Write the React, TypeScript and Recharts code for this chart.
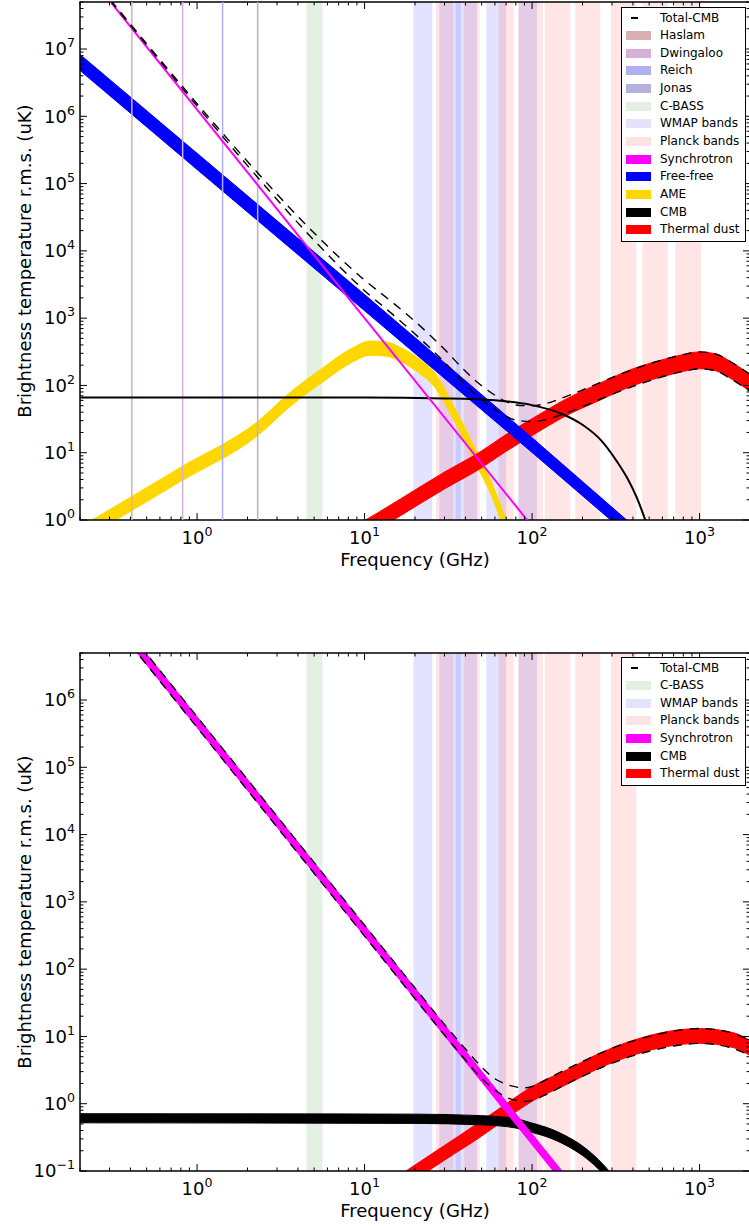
import { Area, ComposedChart, Line, ReferenceArea, ReferenceLine, XAxis, YAxis } from "recharts"

const FONT = "'DejaVu Sans', 'Bitstream Vera Sans', sans-serif"

// ---- shared bands (GHz) ----
const surveyNames = ["Haslam", "Dwingaloo", "Reich", "Jonas"]
const surveyFreqs = [0.408, 0.82, 1.42, 2.3]
const cbassBand = [4.5, 5.6]
const wmapBands = [[19.6, 25.4], [27.9, 37.5], [35, 46.9], [53.3, 70], [83, 107]]
const planckBands = [[26.7, 33.8], [39.3, 48.5], [63, 77.6], [83, 116], [119, 169], [181, 255], [296, 419], [455, 648], [716, 1019]]
const planckBandsLower = planckBands.slice(0, 7)

// ---- top panel ----
const syncFreqTop = [0.2, 1, 10, 100]
const syncTempTop = [1.84e8, 1.26e6, 1.0e3, 0.81]

const ffFreq = [0.2, 1, 10, 100, 400]
const ffLo = [4.8e6, 1.62e5, 1290, 10.1, 0.52]
const ffHi = [8.3e6, 2.82e5, 2240, 16.7, 0.83]

const ameFreq = [0.2, 0.8, 2.3, 3.6, 5.7, 8.6, 10.8, 13.6, 16.4, 21.5, 25.9, 32.6, 40.9, 47, 56.4, 64.7, 70.8, 75]
const ameLo = [0.48, 3.76, 18, 48.8, 115, 227, 281, 271, 226, 148, 98.6, 37.6, 12.4, 6.2, 2.5, 1.03, 0.55, 0.31]
const ameHi = [0.78, 6.1, 29.2, 79.2, 187, 369, 457, 441, 366, 240, 160, 61, 20.2, 10.1, 4.0, 1.68, 0.9, 0.5]

const cmbFreqTop = [0.2, 10, 30, 60, 100, 150, 200, 260, 320, 370, 420, 474, 520]
const cmbTempTop = [66, 66, 64, 60, 51, 38, 26, 15, 7.5, 4.2, 2.2, 1.0, 0.5]

const dustFreqTop = [10, 12.3, 16.4, 30, 49, 70, 102, 158, 256, 398, 640, 800, 1000, 1260, 1600, 2000]
const dustLoTop = [0.55, 0.75, 1.16, 2.9, 5.8, 10.5, 18.5, 35, 61, 99, 141, 162, 177, 164, 119, 82]
const dustHiTop = [0.98, 1.33, 2.06, 5.15, 10.3, 18.7, 33, 62, 109, 176, 251, 288, 315, 291, 211, 146]

const totFreqTop = [0.2, 0.5, 1, 2, 5, 10, 15, 20, 30, 40, 50, 60, 70, 80, 100, 120, 150, 200, 300, 500, 700, 800, 1000, 1260, 1500, 2000]
const totLoTop = [1.89e8, 1.14e7, 1.42e6, 1.85e5, 1.43e4, 2560, 1090, 582, 221, 102, 61.6, 43.8, 34.7, 30.6, 29.1, 30.8, 36.9, 48.3, 74, 117, 150, 162, 177, 164, 130, 82]
const totHiTop = [1.92e8, 1.2e7, 1.54e6, 2.13e5, 1.84e4, 3680, 1640, 894, 344, 162, 98.7, 71.5, 57.4, 51.3, 49.9, 53.5, 64.6, 85.5, 131, 209, 266, 288, 315, 291, 232, 146]

// ---- bottom panel ----
const syncFreqBot = [0.2, 1, 10, 100, 200]
const syncLoBot = [5.74e7, 3.91e5, 310, 0.246, 0.029]
const syncHiBot = [8.3e7, 5.65e5, 449, 0.355, 0.042]

const cmbFreqBot = [0.2, 20, 50, 80, 100, 130, 160, 200, 250, 300, 350]
const cmbLoBot = [0.52, 0.51, 0.485, 0.435, 0.375, 0.305, 0.24, 0.17, 0.106, 0.064, 0.037]
const cmbHiBot = [0.71, 0.7, 0.665, 0.6, 0.515, 0.42, 0.33, 0.235, 0.146, 0.088, 0.05]

const dustFreqBot = [15, 20.6, 30, 50, 64.7, 102, 162, 256, 404, 640, 1000, 1600, 2000]
const dustLoBot = [0.046, 0.078, 0.145, 0.33, 0.52, 1.12, 1.95, 3.44, 5.3, 7.1, 7.9, 6.8, 5.2]
const dustHiBot = [0.076, 0.129, 0.24, 0.56, 0.87, 1.85, 3.2, 5.7, 8.8, 11.8, 13.1, 11.3, 8.7]

const totFreqBot = [0.2, 1, 10, 20, 30, 40, 50, 60, 70, 80, 90, 100, 120, 150, 200, 300, 500, 700, 1000, 1500, 2000]
const totLoBot = [5.74e7, 3.91e5, 310, 36.3, 10.5, 4.46, 2.37, 1.6, 1.25, 1.12, 1.08, 1.12, 1.35, 1.8, 2.56, 4.0, 6.03, 7.2, 7.88, 6.9, 5.25]
const totHiBot = [8.3e7, 5.65e5, 449, 52.5, 15.1, 6.5, 3.5, 2.35, 1.95, 1.78, 1.72, 1.8, 2.25, 3.0, 4.24, 6.67, 10.0, 12.0, 13.1, 11.6, 8.7]

const X_DOMAIN = [0.2, 2000]
const TOP_Y = [1, 5e7]
const BOT_Y = [0.1, 5e6]

// layout of each chart (chart-local px)
const W = 770
const H = 578
const PLOT_TOP = 2
const PLOT_LEFT = 80
const PLOT_RIGHT = 750
const BOTTOM_OFFSET = 651
const DASH = "9 7"

const rows = (f: number[], t: number[]) => f.map((v, i) => ({ f: v, t: t[i] }))
const bandRows = (f: number[], lo: number[], hi: number[]) => f.map((v, i) => ({ f: v, r: [lo[i], hi[i]] }))

function logTicks(lo: number, hi: number) {
    const out: number[] = []
    for (let e = Math.floor(Math.log10(lo)); e <= Math.ceil(Math.log10(hi)); e++) {
        for (let m = 1; m <= 9; m++) {
            const v = +(m * Math.pow(10, e)).toPrecision(6)
            if (v >= lo * 0.9999 && v <= hi * 1.0001) out.push(v)
        }
    }
    return out
}

const expText = (e: number) => (e < 0 ? "\u2212" + -e : String(e))

function XTick(props: any) {
    const { x, y, payload } = props
    const lg = Math.log10(payload.value)
    const major = Math.abs(lg - Math.round(lg)) < 1e-6
    const len = major ? 7 : 3.5
    return (
        <g>
            <line x1={x} x2={x} y1={y} y2={y - len} stroke="#000" strokeWidth={1} />
            <line x1={x} x2={x} y1={PLOT_TOP} y2={PLOT_TOP + len} stroke="#000" strokeWidth={1} />
            {major && (
                <text x={x} y={y + 23.5} textAnchor="middle" fontSize={18} fontFamily={FONT} fill="#000">
                    10<tspan dy={-8} fontSize={12.6}>{expText(Math.round(lg))}</tspan>
                </text>
            )}
        </g>
    )
}

function YTick(props: any) {
    const { x, y, payload } = props
    const lg = Math.log10(payload.value)
    const major = Math.abs(lg - Math.round(lg)) < 1e-6
    const len = major ? 7 : 3.5
    return (
        <g>
            <line x1={x} x2={x + len} y1={y} y2={y} stroke="#000" strokeWidth={1} />
            <line x1={PLOT_RIGHT} x2={PLOT_RIGHT - len} y1={y} y2={y} stroke="#000" strokeWidth={1} />
            {major && (
                <text x={x - 5} y={y + 6.3} textAnchor="end" fontSize={18} fontFamily={FONT} fill="#000">
                    10<tspan dy={-8} fontSize={12.6}>{expText(Math.round(lg))}</tspan>
                </text>
            )}
        </g>
    )
}

const COLORS = {
    Haslam: "#d8b0b0",
    Dwingaloo: "#d7afd7",
    Reich: "#b0b0f0",
    Jonas: "#b2b2da",
    cbass: "#e3f0e3",
    wmap: "#e3e3fb",
    planck: "#fce4e4",
    sync: "#ff00ff",
    ff: "#0000ff",
    ame: "#ffd700",
    cmb: "#000000",
    dust: "#ff0000",
}

type LegendItem = { label: string; color: string; dash?: boolean }

function LegendBox({ top, items }: { top: number; items: LegendItem[] }) {
    const pitch = 17.65
    return (
        <div
            style={{
                position: "absolute",
                left: 621,
                top,
                width: 125,
                height: 10 + (items.length - 1) * pitch + 13,
                border: "1px solid #000",
                boxSizing: "border-box",
                background: "#fff",
                fontFamily: FONT,
                fontSize: 12,
                color: "#000",
            }}
        >
            {items.map((it, i) => {
                const cy = 10 + i * pitch
                return (
                    <div key={it.label}>
                        {it.dash ? (
                            <div style={{ position: "absolute", left: 9, top: cy - 1, width: 7, height: 2, background: "#000" }} />
                        ) : (
                            <div style={{ position: "absolute", left: 4, top: cy - 4.5, width: 25, height: 9, background: it.color }} />
                        )}
                        <div style={{ position: "absolute", left: 38, top: cy - 7.5, lineHeight: "15px", whiteSpace: "nowrap" }}>{it.label}</div>
                    </div>
                )
            })}
        </div>
    )
}

function axes(yDomain: number[]) {
    return [
        <XAxis
            key="x"
            dataKey="f"
            type="number"
            scale="log"
            domain={X_DOMAIN}
            allowDataOverflow
            ticks={logTicks(X_DOMAIN[0], X_DOMAIN[1])}
            interval={0}
            tickSize={0}
            tickMargin={0}
            axisLine={false}
            tickLine={false}
            tick={(p: any) => <XTick {...p} />}
            height={58}
        />,
        <YAxis
            key="y"
            type="number"
            scale="log"
            domain={yDomain}
            allowDataOverflow
            ticks={logTicks(yDomain[0], yDomain[1])}
            interval={0}
            tickSize={0}
            tickMargin={0}
            axisLine={false}
            tickLine={false}
            tick={(p: any) => <YTick {...p} />}
            width={80}
        />,
    ]
}

function bands(planck: number[][]) {
    return [
        <ReferenceArea key="cb" x1={cbassBand[0]} x2={cbassBand[1]} fill="#008000" fillOpacity={0.11} stroke="none" ifOverflow="hidden" />,
        ...wmapBands.map((b, i) => (
            <ReferenceArea key={"w" + i} x1={b[0]} x2={b[1]} fill="#0000ff" fillOpacity={0.11} stroke="none" ifOverflow="hidden" />
        )),
        ...planck.map((b, i) => (
            <ReferenceArea key={"p" + i} x1={b[0]} x2={b[1]} fill="#ff0000" fillOpacity={0.1} stroke="none" ifOverflow="hidden" />
        )),
    ]
}

const topLegend: LegendItem[] = [
    { label: "Total-CMB", color: "#000", dash: true },
    { label: "Haslam", color: COLORS.Haslam },
    { label: "Dwingaloo", color: COLORS.Dwingaloo },
    { label: "Reich", color: COLORS.Reich },
    { label: "Jonas", color: COLORS.Jonas },
    { label: "C-BASS", color: COLORS.cbass },
    { label: "WMAP bands", color: COLORS.wmap },
    { label: "Planck bands", color: COLORS.planck },
    { label: "Synchrotron", color: COLORS.sync },
    { label: "Free-free", color: COLORS.ff },
    { label: "AME", color: COLORS.ame },
    { label: "CMB", color: COLORS.cmb },
    { label: "Thermal dust", color: COLORS.dust },
]

const bottomLegend: LegendItem[] = [
    { label: "Total-CMB", color: "#000", dash: true },
    { label: "C-BASS", color: COLORS.cbass },
    { label: "WMAP bands", color: COLORS.wmap },
    { label: "Planck bands", color: COLORS.planck },
    { label: "Synchrotron", color: COLORS.sync },
    { label: "CMB", color: COLORS.cmb },
    { label: "Thermal dust", color: COLORS.dust },
]

const axisTitle: React.CSSProperties = {
    position: "absolute",
    fontFamily: FONT,
    fontSize: 18,
    lineHeight: "18px",
    whiteSpace: "nowrap",
    color: "#000",
}

function TopChart() {
    return (
        <ComposedChart width={W} height={H} margin={{ top: PLOT_TOP, right: W - PLOT_RIGHT, bottom: 0, left: 0 }}>
            {axes(TOP_Y)}
            {bands(planckBands)}
            {surveyFreqs.map((f, i) => (
                <ReferenceLine key={surveyNames[i]} x={f} stroke={(COLORS as any)[surveyNames[i]]} strokeWidth={1.5} ifOverflow="hidden" />
            ))}
            <Area data={bandRows(ameFreq, ameLo, ameHi)} dataKey="r" type="monotone" fill={COLORS.ame} fillOpacity={1} stroke={COLORS.ame} strokeWidth={1} dot={false} activeDot={false} isAnimationActive={false} />
            <Area data={bandRows(dustFreqTop, dustLoTop, dustHiTop)} dataKey="r" type="monotone" fill={COLORS.dust} fillOpacity={1} stroke={COLORS.dust} strokeWidth={1} dot={false} activeDot={false} isAnimationActive={false} />
            <Area data={bandRows(ffFreq, ffLo, ffHi)} dataKey="r" type="linear" fill={COLORS.ff} fillOpacity={1} stroke={COLORS.ff} strokeWidth={1} dot={false} activeDot={false} isAnimationActive={false} />
            <Line data={rows(cmbFreqTop, cmbTempTop)} dataKey="t" type="monotone" stroke="#000" strokeWidth={2} dot={false} activeDot={false} isAnimationActive={false} />
            <Line data={rows(syncFreqTop, syncTempTop)} dataKey="t" type="linear" stroke={COLORS.sync} strokeWidth={2} dot={false} activeDot={false} isAnimationActive={false} />
            <Line data={rows(totFreqTop, totLoTop)} dataKey="t" type="monotone" stroke="#000" strokeWidth={1.4} strokeDasharray={DASH} dot={false} activeDot={false} isAnimationActive={false} />
            <Line data={rows(totFreqTop, totHiTop)} dataKey="t" type="monotone" stroke="#000" strokeWidth={1.4} strokeDasharray={DASH} dot={false} activeDot={false} isAnimationActive={false} />
            <ReferenceArea x1={X_DOMAIN[0]} x2={X_DOMAIN[1]} y1={TOP_Y[0]} y2={TOP_Y[1]} fill="none" stroke="#000" strokeWidth={1.5} ifOverflow="visible" />
        </ComposedChart>
    )
}

function BottomChart() {
    return (
        <ComposedChart width={W} height={H} margin={{ top: PLOT_TOP, right: W - PLOT_RIGHT, bottom: 0, left: 0 }}>
            {axes(BOT_Y)}
            {bands(planckBandsLower)}
            <Area data={bandRows(dustFreqBot, dustLoBot, dustHiBot)} dataKey="r" type="monotone" fill={COLORS.dust} fillOpacity={1} stroke={COLORS.dust} strokeWidth={1} dot={false} activeDot={false} isAnimationActive={false} />
            <Area data={bandRows(cmbFreqBot, cmbLoBot, cmbHiBot)} dataKey="r" type="monotone" fill="#000" fillOpacity={1} stroke="#000" strokeWidth={1} dot={false} activeDot={false} isAnimationActive={false} />
            <Area data={bandRows(syncFreqBot, syncLoBot, syncHiBot)} dataKey="r" type="linear" fill={COLORS.sync} fillOpacity={1} stroke={COLORS.sync} strokeWidth={1} dot={false} activeDot={false} isAnimationActive={false} />
            <Line data={rows(totFreqBot, totLoBot)} dataKey="t" type="monotone" stroke="#000" strokeWidth={1.4} strokeDasharray={DASH} dot={false} activeDot={false} isAnimationActive={false} />
            <Line data={rows(totFreqBot, totHiBot)} dataKey="t" type="monotone" stroke="#000" strokeWidth={1.4} strokeDasharray={DASH} dot={false} activeDot={false} isAnimationActive={false} />
            <ReferenceArea x1={X_DOMAIN[0]} x2={X_DOMAIN[1]} y1={BOT_Y[0]} y2={BOT_Y[1]} fill="none" stroke="#000" strokeWidth={1.5} ifOverflow="visible" />
        </ComposedChart>
    )
}

export default function App() {
    const plotMidX = (PLOT_LEFT + PLOT_RIGHT) / 2
    return (
        <div style={{ position: "fixed", left: 0, top: 0, width: 749, height: 1226, overflow: "hidden", background: "#fff" }}>
            <div style={{ position: "absolute", left: 0, top: 0 }}>
                <TopChart />
            </div>
            <div style={{ position: "absolute", left: 0, top: BOTTOM_OFFSET }}>
                <BottomChart />
            </div>

            <div style={{ ...axisTitle, left: 25, top: 261, transform: "translate(-50%, -50%) rotate(-90deg)" }}>
                Brightness temperature r.m.s. (uK)
            </div>
            <div style={{ ...axisTitle, left: 25, top: 912, transform: "translate(-50%, -50%) rotate(-90deg)" }}>
                Brightness temperature r.m.s. (uK)
            </div>
            <div style={{ ...axisTitle, left: plotMidX, top: 560, transform: "translate(-50%, -50%)" }}>Frequency (GHz)</div>
            <div style={{ ...axisTitle, left: plotMidX, top: 1211, transform: "translate(-50%, -50%)" }}>Frequency (GHz)</div>

            <LegendBox top={7} items={topLegend} />
            <LegendBox top={657} items={bottomLegend} />
        </div>
    )
}
